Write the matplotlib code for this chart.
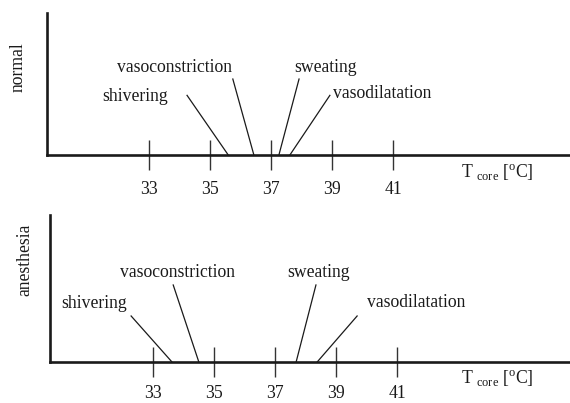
import matplotlib.pyplot as plt

plt.rcParams['font.family'] = ['Liberation Serif', 'DejaVu Serif']
plt.rcParams['mathtext.fontset'] = 'custom'
plt.rcParams['mathtext.rm'] = 'Liberation Serif'

# threshold temperatures of the thermoregulatory responses [deg C]
responses = ["shivering", "vasoconstriction", "sweating", "vasodilatation"]
normal_thr = [35.6, 36.44, 37.26, 37.62]
anesthesia_thr = [33.62, 34.5, 37.69, 38.38]
temp_ticks = [33, 35, 37, 39, 41]
panel_names = ["normal", "anesthesia"]

INK = "#1a1a1a"
FS = 12.7

fig = plt.figure(figsize=(5.7, 4.03), dpi=100)

# axes rectangles and x ranges of the two panels
rects = [[47/570, 1-155/403, 1-47/570, (155-13)/403],
         [50/570, 1-362/403, 1-50/570, (362-215)/403]]
xlims = [(29.66, 46.8), (29.62, 46.67)]
tick_pads = [8, 5.5]

# leader line tops (x in deg C, y in axes fraction) and label anchors
leader_tops = [
    [(34.25, 0.42), (35.75, 0.535), (37.92, 0.535), (38.93, 0.42)],
    [(32.28, 0.313), (33.66, 0.524), (38.34, 0.524), (39.69, 0.313)],
]
label_pos = [
    [(33.62, 0.38, "right"), (33.85, 0.585, "center"), (38.79, 0.585, "center"), (39.03, 0.40, "left")],
    [(32.15, 0.367, "right"), (33.79, 0.578, "center"), (38.41, 0.578, "center"), (40.02, 0.374, "left")],
]
unit_pos = [(44.41, -0.165), (44.28, -0.148)]
name_pos = [(18/570, 1-67/403), (25/570, 1-260/403)]

for k, thr in enumerate([normal_thr, anesthesia_thr]):
    ax = fig.add_axes(rects[k])
    ax.set_xlim(*xlims[k])
    ax.set_ylim(0, 1)
    for s in ["top", "right"]:
        ax.spines[s].set_visible(False)
    for s in ["left", "bottom"]:
        ax.spines[s].set_linewidth(1.9)
        ax.spines[s].set_color(INK)
    ax.set_yticks([])
    ax.set_xticks(temp_ticks)
    ax.set_xticklabels([str(t) for t in temp_ticks], fontsize=FS, color=INK)
    ax.tick_params(axis='x', direction='inout', length=21.5, width=1.0,
                   color="#333333", pad=tick_pads[k])

    for i, name in enumerate(responses):
        tx, ty = leader_tops[k][i]
        ax.plot([thr[i], tx], [0, ty], color=INK, lw=0.9, clip_on=False)
        lx, ly, ha = label_pos[k][i]
        ax.text(lx, ly, name, ha=ha, va='baseline', fontsize=FS, color=INK)

    ux, uy = unit_pos[k]
    ax.text(ux, uy, r'T $_{\rm core}$ [$^{\rm o}$C]', ha='center', va='baseline',
            fontsize=FS, color=INK)
    fig.text(name_pos[k][0], name_pos[k][1], panel_names[k], rotation=90,
             ha='center', va='center', fontsize=FS, color=INK)

fig.savefig("out.png", dpi=100)
